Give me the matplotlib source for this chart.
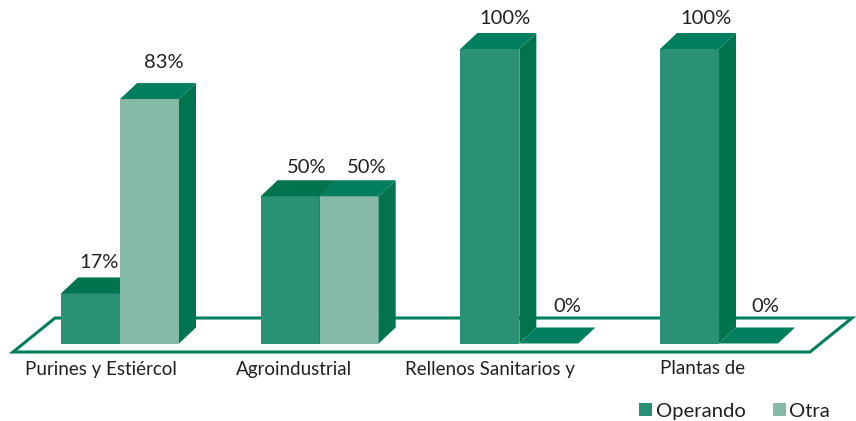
#!/usr/bin/env python3
import matplotlib
matplotlib.use("Agg")
import matplotlib.pyplot as plt
from matplotlib.patches import Patch, Polygon

plt.rcParams["font.family"] = ["Lato", "DejaVu Sans"]

categories = ["Purines y Estiércol", "Agroindustrial", "Rellenos Sanitarios y", "Plantas de"]
operando = [17, 50, 100, 100]
otra = [83, 50, 0, 0]

# ---------------- style ----------------
FRONT_OPERANDO = "#2b9175"
FRONT_OTRA = "#86b9a6"
TOP_GREEN = "#007f5f"
SIDE_GREEN = "#00734f"
TEXT = "#231f20"

PX_X = 199.67   # pixels per category
PX_Y = 2.945    # pixels per percent
BAR_W = 59 / PX_X
DEPTH_X = 17 / PX_X
DEPTH_Y = 16 / PX_Y

# hand nudges for the labels, in pixels
NUDGE_OPERANDO = [(-7, -3), (1, -5), (0, -4), (1, -4)]
NUDGE_OTRA = [(-1, 3), (2, -5), (3, 3), (2, 3)]
CAT_DX = [-19.5, -25.5, -29.5, -16]


def draw_bar(ax, x, value, front, top, zorder, nudge):
    # x = left edge of the front face
    if value > 0:
        ax.add_patch(Polygon([(x, 0), (x + BAR_W, 0), (x + BAR_W, value), (x, value)],
                             fc=front, ec="none", zorder=zorder))
        ax.add_patch(Polygon([(x + BAR_W, 0), (x + BAR_W + DEPTH_X, DEPTH_Y),
                              (x + BAR_W + DEPTH_X, value + DEPTH_Y), (x + BAR_W, value)],
                             fc=SIDE_GREEN, ec="none", zorder=zorder))
    ax.add_patch(Polygon([(x, value), (x + BAR_W, value),
                          (x + BAR_W + DEPTH_X, value + DEPTH_Y), (x + DEPTH_X, value + DEPTH_Y)],
                         fc=top, ec="none", zorder=zorder))
    ax.text(x + BAR_W / 2 + DEPTH_X * 0.9 + nudge[0] / PX_X, value + (34 + nudge[1]) / PX_Y,
            f"{value}%", ha="center", va="center", fontsize=14.5, color=TEXT, zorder=10)


fig = plt.figure(figsize=(8.56, 4.21), dpi=100)
ax = fig.add_axes([0, 0, 1, 1])
ax.set_xlim(-120 / PX_X, (856 - 120) / PX_X)
ax.set_ylim(-(421 - 343.5) / PX_Y, 343.5 / PX_Y)
ax.axis("off")

# floor outline: back edge goes behind the bars, front edge in front
floor_l, floor_r = -107 / PX_X, 690 / PX_X
floor_front, floor_back = -8.5 / PX_Y, 25.5 / PX_Y
slant = 42 / PX_X
ax.add_patch(Polygon([(floor_l, floor_front), (floor_r, floor_front),
                      (floor_r + slant, floor_back), (floor_l + slant, floor_back)],
                     closed=True, fc="none", ec=TOP_GREEN, lw=2.2, zorder=1, joinstyle="miter"))

for i, name in enumerate(categories):
    draw_bar(ax, i - BAR_W, operando[i], FRONT_OPERANDO,
             SIDE_GREEN if operando[i] < 100 else TOP_GREEN, 2 + i * 2, NUDGE_OPERANDO[i])
    draw_bar(ax, i, otra[i], FRONT_OTRA, TOP_GREEN, 3 + i * 2, NUDGE_OTRA[i])
    ax.text(i + CAT_DX[i] / PX_X, -25.5 / PX_Y, name, ha="center", va="center",
            fontsize=13.5, color=TEXT, zorder=10)

ax.legend(handles=[Patch(fc=FRONT_OPERANDO, label="Operando"), Patch(fc=FRONT_OTRA, label="Otra")],
          ncols=2, frameon=False, loc="lower right", bbox_to_anchor=(0.970, 0.003), borderaxespad=0,
          borderpad=0, fontsize=14.6, handlelength=0.64, handleheight=0.64, handletextpad=0.18,
          columnspacing=1.35, labelcolor=TEXT)

fig.savefig("out.png", dpi=100)
